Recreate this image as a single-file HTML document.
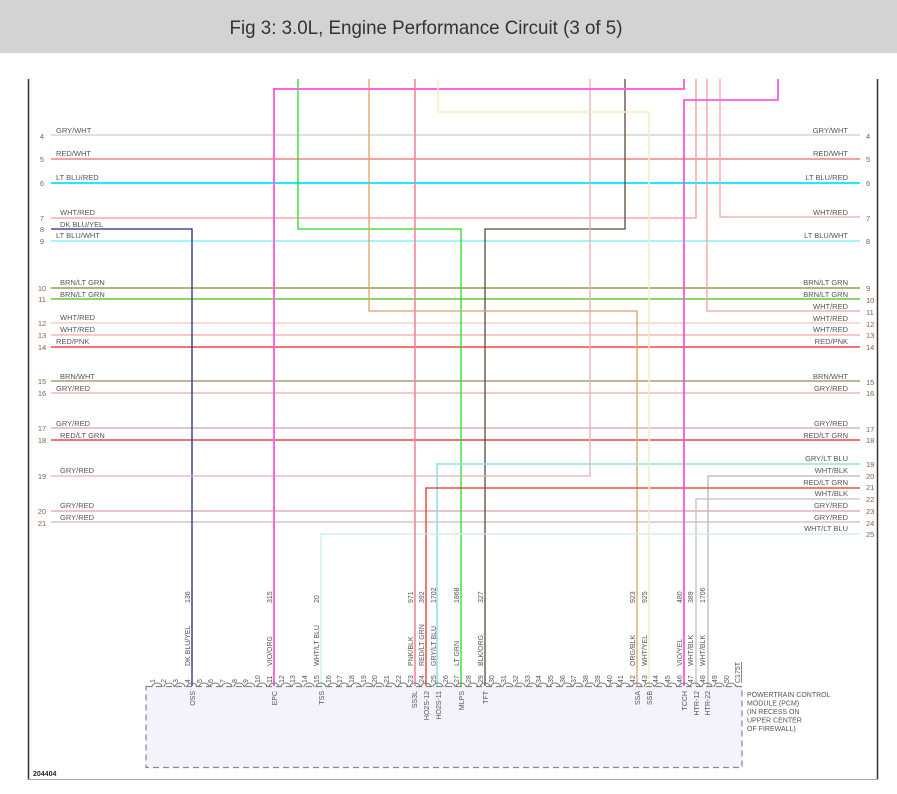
<!DOCTYPE html>
<html><head><meta charset="utf-8"><style>
html,body{margin:0;padding:0;background:#fff;width:897px;height:794px;overflow:hidden}
svg{display:block}
text{font-family:"Liberation Sans",sans-serif}
.l{font-size:7.5px;fill:#555}
.n{font-size:7.5px;fill:#8a6048}
.p{font-size:7px;fill:#555}
</style></head><body>
<svg width="897" height="794" viewBox="0 0 897 794" xmlns="http://www.w3.org/2000/svg">
<rect x="0" y="0" width="897" height="53" fill="#d3d3d3"/>
<text x="426" y="34" text-anchor="middle" font-size="19" fill="#333" textLength="393" lengthAdjust="spacingAndGlyphs">Fig 3: 3.0L, Engine Performance Circuit (3 of 5)</text>
<line x1="28.5" y1="79" x2="28.5" y2="780" stroke="#333" stroke-width="1.5"/>
<line x1="877.5" y1="79" x2="877.5" y2="780" stroke="#333" stroke-width="1.5"/>
<line x1="28" y1="779.5" x2="878" y2="779.5" stroke="#aaa" stroke-width="1"/>

<g fill="none" stroke-width="1.3">
<!-- full horizontals -->
<line x1="51" y1="135" x2="860" y2="135" stroke="#cccccc"/>
<line x1="51" y1="159" x2="860" y2="159" stroke="#f06868"/>
<line x1="51" y1="183" x2="860" y2="183" stroke="#22e8ff" stroke-width="2"/>
<line x1="51" y1="241" x2="860" y2="241" stroke="#88f0f4" stroke-width="1.6"/>
<line x1="51" y1="288" x2="860" y2="288" stroke="#90a048" stroke-width="1.6"/>
<line x1="51" y1="299" x2="860" y2="299" stroke="#68c838" stroke-width="1.6"/>
<line x1="51" y1="323" x2="860" y2="323" stroke="#f4c4c4"/>
<line x1="51" y1="335" x2="860" y2="335" stroke="#f0a8a8"/>
<line x1="51" y1="347" x2="860" y2="347" stroke="#f02020"/>
<line x1="51" y1="381" x2="860" y2="381" stroke="#a08860"/>
<line x1="51" y1="393" x2="860" y2="393" stroke="#f0a8a8"/>
<line x1="51" y1="428" x2="860" y2="428" stroke="#d0a8a8"/>
<line x1="51" y1="440" x2="860" y2="440" stroke="#f02020"/>
<line x1="51" y1="511" x2="860" y2="511" stroke="#e0a0a0"/>
<line x1="51" y1="522" x2="860" y2="522" stroke="#d8b8b8"/>
<!-- partial -->
<polyline points="51,218 696,218 696,79" stroke="#f09a9a"/>
<polyline points="860,217 720,217 720,79" stroke="#f0a8a8"/>
<polyline points="51,229 192,229 192,686" stroke="#1a2a88"/>
<polyline points="298,79 298,229 461,229 461,686" stroke="#22dd22"/>
<polyline points="625,79 625,229 485,229 485,686" stroke="#604838"/>
<polyline points="707,79 707,311 860,311" stroke="#f0a0a0"/>
<polyline points="369,79 369,311 637,311 637,686" stroke="#e0a060"/>
<polyline points="51,476 590,476 590,79" stroke="#e4b0b0"/>
<polyline points="860,464 437,464 437,686" stroke="#90e0e8" stroke-width="1.6"/>
<polyline points="860,476 708,476 708,686" stroke="#b8b8b8"/>
<polyline points="860,499 696,499 696,686" stroke="#c0c0c0"/>
<polyline points="860,488 426,488 426,686" stroke="#e83020"/>
<polyline points="860,534 321,534 321,686" stroke="#c8eef0"/>
<polyline points="684,79 684,89 274,89 274,686" stroke="#ff66dd" stroke-width="2"/>
<polyline points="778,79 778,100 684,100 684,686" stroke="#ff44dd" stroke-width="1.6"/>
<line x1="415" y1="79" x2="415" y2="686" stroke="#f08898" stroke-width="1.6"/>
<polyline points="438,79 438,112 649,112 649,686" stroke="#f4f0c0" stroke-width="1.5"/>
</g>

<!-- left labels -->
<g class="l">
<text x="56" y="133">GRY/WHT</text>
<text x="56" y="156">RED/WHT</text>
<text x="56" y="180">LT BLU/RED</text>
<text x="60" y="215">WHT/RED</text>
<text x="60" y="227">DK BLU/YEL</text>
<text x="56" y="238">LT BLU/WHT</text>
<text x="60" y="285">BRN/LT GRN</text>
<text x="60" y="297">BRN/LT GRN</text>
<text x="60" y="320">WHT/RED</text>
<text x="60" y="332">WHT/RED</text>
<text x="56" y="344">RED/PNK</text>
<text x="60" y="379">BRN/WHT</text>
<text x="56" y="391">GRY/RED</text>
<text x="56" y="426">GRY/RED</text>
<text x="60" y="438">RED/LT GRN</text>
<text x="60" y="473">GRY/RED</text>
<text x="60" y="508">GRY/RED</text>
<text x="60" y="520">GRY/RED</text>
</g>
<g class="n" text-anchor="middle">
<text x="42" y="139">4</text><text x="42" y="162">5</text><text x="42" y="186">6</text>
<text x="42" y="221">7</text><text x="42" y="232">8</text><text x="42" y="244">9</text>
<text x="42" y="291">10</text><text x="42" y="302">11</text><text x="42" y="326">12</text>
<text x="42" y="338">13</text><text x="42" y="350">14</text><text x="42" y="384">15</text>
<text x="42" y="396">16</text><text x="42" y="431">17</text><text x="42" y="443">18</text>
<text x="42" y="479">19</text><text x="42" y="514">20</text><text x="42" y="526">21</text>
</g>
<!-- right labels -->
<g class="l" text-anchor="end">
<text x="848" y="133">GRY/WHT</text>
<text x="848" y="156">RED/WHT</text>
<text x="848" y="180">LT BLU/RED</text>
<text x="848" y="215">WHT/RED</text>
<text x="848" y="238">LT BLU/WHT</text>
<text x="848" y="285">BRN/LT GRN</text>
<text x="848" y="297">BRN/LT GRN</text>
<text x="848" y="309">WHT/RED</text>
<text x="848" y="321">WHT/RED</text>
<text x="848" y="332">WHT/RED</text>
<text x="848" y="344">RED/PNK</text>
<text x="848" y="379">BRN/WHT</text>
<text x="848" y="391">GRY/RED</text>
<text x="848" y="426">GRY/RED</text>
<text x="848" y="438">RED/LT GRN</text>
<text x="848" y="461">GRY/LT BLU</text>
<text x="848" y="473">WHT/BLK</text>
<text x="848" y="485">RED/LT GRN</text>
<text x="848" y="496">WHT/BLK</text>
<text x="848" y="508">GRY/RED</text>
<text x="848" y="520">GRY/RED</text>
<text x="848" y="531">WHT/LT BLU</text>
</g>
<g class="n">
<text x="866" y="139">4</text><text x="866" y="162">5</text><text x="866" y="186">6</text>
<text x="866" y="221">7</text><text x="866" y="244">8</text><text x="866" y="291">9</text>
<text x="866" y="303">10</text><text x="866" y="315">11</text><text x="866" y="327">12</text>
<text x="866" y="338">13</text><text x="866" y="350">14</text><text x="866" y="385">15</text>
<text x="866" y="396">16</text><text x="866" y="432">17</text><text x="866" y="443">18</text>
<text x="866" y="467">19</text><text x="866" y="479">20</text><text x="866" y="490">21</text>
<text x="866" y="502">22</text><text x="866" y="514">23</text><text x="866" y="526">24</text>
<text x="866" y="537">25</text>
</g>

<!-- PCM box -->
<rect x="146" y="686.5" width="596" height="81" fill="#f2f3fb" stroke="#888" stroke-width="1.2" stroke-dasharray="6,4"/>
<g fill="none" stroke="#777" stroke-width="1">
<path d="M152,687 a5,4 0 0 1 10,0 M164,687 a5,4 0 0 1 10,0 M175,687 a5,4 0 0 1 10,0 M187,687 a5,4 0 0 1 10,0 M199,687 a5,4 0 0 1 10,0 M210,687 a5,4 0 0 1 10,0 M222,687 a5,4 0 0 1 10,0 M234,687 a5,4 0 0 1 10,0 M245,687 a5,4 0 0 1 10,0 M257,687 a5,4 0 0 1 10,0 M269,687 a5,4 0 0 1 10,0 M281,687 a5,4 0 0 1 10,0 M292,687 a5,4 0 0 1 10,0 M304,687 a5,4 0 0 1 10,0 M316,687 a5,4 0 0 1 10,0 M328,687 a5,4 0 0 1 10,0 M339,687 a5,4 0 0 1 10,0 M351,687 a5,4 0 0 1 10,0 M363,687 a5,4 0 0 1 10,0 M374,687 a5,4 0 0 1 10,0 M386,687 a5,4 0 0 1 10,0 M398,687 a5,4 0 0 1 10,0 M410,687 a5,4 0 0 1 10,0 M421,687 a5,4 0 0 1 10,0 M433,687 a5,4 0 0 1 10,0 M445,687 a5,4 0 0 1 10,0 M456,687 a5,4 0 0 1 10,0 M468,687 a5,4 0 0 1 10,0 M480,687 a5,4 0 0 1 10,0 M491,687 a5,4 0 0 1 10,0 M503,687 a5,4 0 0 1 10,0 M515,687 a5,4 0 0 1 10,0 M527,687 a5,4 0 0 1 10,0 M538,687 a5,4 0 0 1 10,0 M550,687 a5,4 0 0 1 10,0 M562,687 a5,4 0 0 1 10,0 M573,687 a5,4 0 0 1 10,0 M585,687 a5,4 0 0 1 10,0 M597,687 a5,4 0 0 1 10,0 M609,687 a5,4 0 0 1 10,0 M620,687 a5,4 0 0 1 10,0 M632,687 a5,4 0 0 1 10,0 M644,687 a5,4 0 0 1 10,0 M655,687 a5,4 0 0 1 10,0 M667,687 a5,4 0 0 1 10,0 M679,687 a5,4 0 0 1 10,0 M690,687 a5,4 0 0 1 10,0 M702,687 a5,4 0 0 1 10,0 M714,687 a5,4 0 0 1 10,0 M726,687 a5,4 0 0 1 10,0"/>
</g>
<g class="p">
<text transform="translate(155,683) rotate(-90)">1</text>
<text transform="translate(166,683) rotate(-90)">2</text>
<text transform="translate(178,683) rotate(-90)">3</text>
<text transform="translate(190,683) rotate(-90)">4</text>
<text transform="translate(202,683) rotate(-90)">5</text>
<text transform="translate(213,683) rotate(-90)">6</text>
<text transform="translate(225,683) rotate(-90)">7</text>
<text transform="translate(237,683) rotate(-90)">8</text>
<text transform="translate(248,683) rotate(-90)">9</text>
<text transform="translate(260,683) rotate(-90)">10</text>
<text transform="translate(272,683) rotate(-90)">11</text>
<text transform="translate(284,683) rotate(-90)">12</text>
<text transform="translate(295,683) rotate(-90)">13</text>
<text transform="translate(307,683) rotate(-90)">14</text>
<text transform="translate(319,683) rotate(-90)">15</text>
<text transform="translate(331,683) rotate(-90)">16</text>
<text transform="translate(342,683) rotate(-90)">17</text>
<text transform="translate(354,683) rotate(-90)">18</text>
<text transform="translate(366,683) rotate(-90)">19</text>
<text transform="translate(377,683) rotate(-90)">20</text>
<text transform="translate(389,683) rotate(-90)">21</text>
<text transform="translate(401,683) rotate(-90)">22</text>
<text transform="translate(413,683) rotate(-90)">23</text>
<text transform="translate(424,683) rotate(-90)">24</text>
<text transform="translate(436,683) rotate(-90)">25</text>
<text transform="translate(448,683) rotate(-90)">26</text>
<text transform="translate(459,683) rotate(-90)">27</text>
<text transform="translate(471,683) rotate(-90)">28</text>
<text transform="translate(483,683) rotate(-90)">29</text>
<text transform="translate(494,683) rotate(-90)">30</text>
<text transform="translate(506,683) rotate(-90)">31</text>
<text transform="translate(518,683) rotate(-90)">32</text>
<text transform="translate(530,683) rotate(-90)">33</text>
<text transform="translate(541,683) rotate(-90)">34</text>
<text transform="translate(553,683) rotate(-90)">35</text>
<text transform="translate(565,683) rotate(-90)">36</text>
<text transform="translate(576,683) rotate(-90)">37</text>
<text transform="translate(588,683) rotate(-90)">38</text>
<text transform="translate(600,683) rotate(-90)">39</text>
<text transform="translate(612,683) rotate(-90)">40</text>
<text transform="translate(623,683) rotate(-90)">41</text>
<text transform="translate(635,683) rotate(-90)">42</text>
<text transform="translate(647,683) rotate(-90)">43</text>
<text transform="translate(658,683) rotate(-90)">44</text>
<text transform="translate(670,683) rotate(-90)">45</text>
<text transform="translate(682,683) rotate(-90)">46</text>
<text transform="translate(693,683) rotate(-90)">47</text>
<text transform="translate(705,683) rotate(-90)">48</text>
<text transform="translate(717,683) rotate(-90)">49</text>
<text transform="translate(729,683) rotate(-90)">50</text>
<text transform="translate(740,683) rotate(-90)" text-decoration="underline">C175T</text>
</g>
<!-- wire labels above box -->
<g class="p">
<text transform="translate(190,666) rotate(-90)">DK BLU/YEL</text>
<text transform="translate(272,666) rotate(-90)">VIO/ORG</text>
<text transform="translate(319,666) rotate(-90)">WHT/LT BLU</text>
<text transform="translate(413,666) rotate(-90)">PNK/BLK</text>
<text transform="translate(424,666) rotate(-90)">RED/LT GRN</text>
<text transform="translate(436,666) rotate(-90)">GRY/LT BLU</text>
<text transform="translate(459,666) rotate(-90)">LT GRN</text>
<text transform="translate(483,666) rotate(-90)">BLK/ORG</text>
<text transform="translate(635,666) rotate(-90)">ORG/BLK</text>
<text transform="translate(647,666) rotate(-90)">WHT/YEL</text>
<text transform="translate(682,666) rotate(-90)">VIO/YEL</text>
<text transform="translate(693,666) rotate(-90)">WHT/BLK</text>
<text transform="translate(705,666) rotate(-90)">WHT/BLK</text>
<text transform="translate(190,603) rotate(-90)">136</text>
<text transform="translate(272,603) rotate(-90)">315</text>
<text transform="translate(319,603) rotate(-90)">20</text>
<text transform="translate(413,603) rotate(-90)">971</text>
<text transform="translate(424,603) rotate(-90)">392</text>
<text transform="translate(436,603) rotate(-90)">1702</text>
<text transform="translate(459,603) rotate(-90)">1868</text>
<text transform="translate(483,603) rotate(-90)">327</text>
<text transform="translate(635,603) rotate(-90)">923</text>
<text transform="translate(647,603) rotate(-90)">925</text>
<text transform="translate(682,603) rotate(-90)">480</text>
<text transform="translate(693,603) rotate(-90)">389</text>
<text transform="translate(705,603) rotate(-90)">1706</text>
</g>
<!-- signal names inside box -->
<g class="p" text-anchor="end">
<text transform="translate(195,691) rotate(-90)">OSS</text>
<text transform="translate(277,691) rotate(-90)">EPC</text>
<text transform="translate(324,691) rotate(-90)">TSS</text>
<text transform="translate(417,691) rotate(-90)">SS3L</text>
<text transform="translate(429,691) rotate(-90)">HO2S-12</text>
<text transform="translate(441,691) rotate(-90)">HO2S-11</text>
<text transform="translate(464,691) rotate(-90)">MLPS</text>
<text transform="translate(488,691) rotate(-90)">TFT</text>
<text transform="translate(640,691) rotate(-90)">SSA</text>
<text transform="translate(652,691) rotate(-90)">SSB</text>
<text transform="translate(687,691) rotate(-90)">TCCH</text>
<text transform="translate(699,691) rotate(-90)">HTR-12</text>
<text transform="translate(710,691) rotate(-90)">HTR-22</text>
</g>
<g class="p" font-size="7.5">
<text x="747" y="697">POWERTRAIN CONTROL</text>
<text x="747" y="705.5">MODULE (PCM)</text>
<text x="747" y="714">(IN RECESS ON</text>
<text x="747" y="722.5">UPPER CENTER</text>
<text x="747" y="731">OF FIREWALL)</text>
</g>
<text x="33" y="776" font-size="7" font-weight="bold" fill="#223">204404</text>
</svg>
</body></html>
